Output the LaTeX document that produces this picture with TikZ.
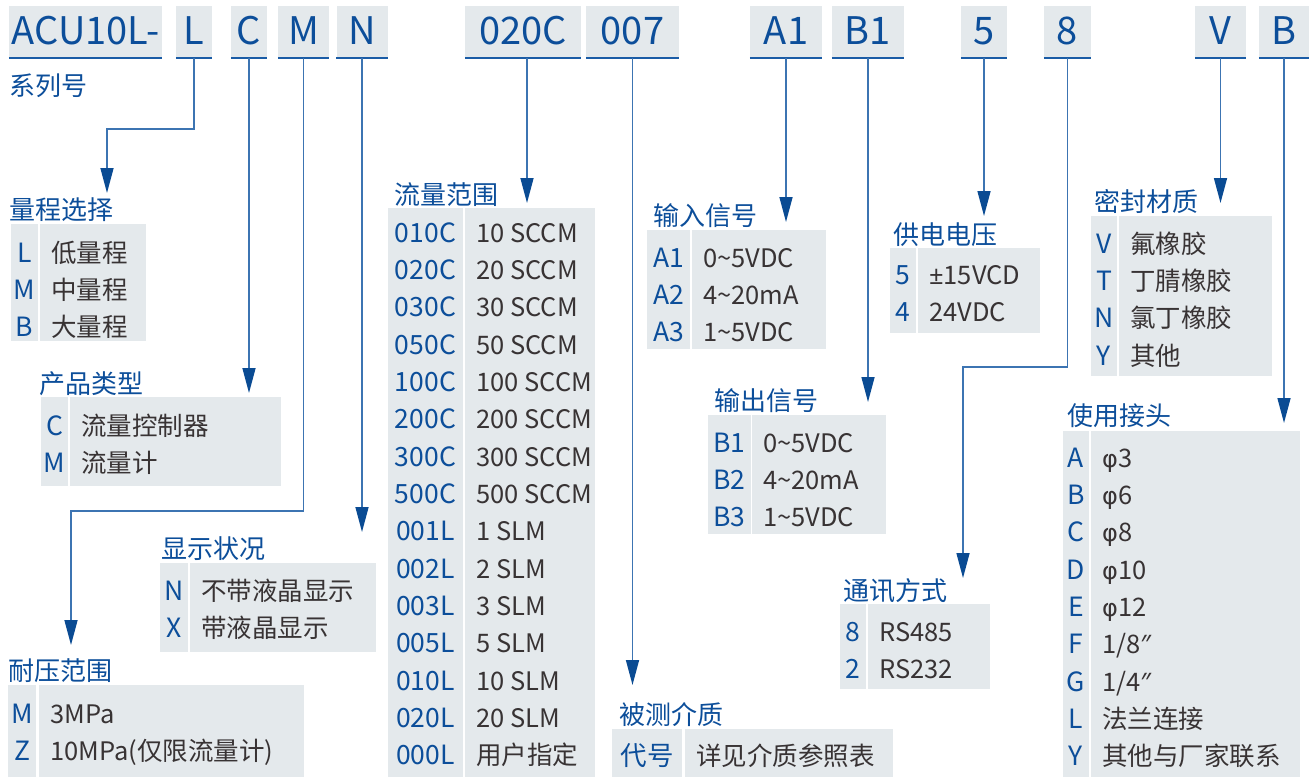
\documentclass[tikz,border=0pt]{standalone}
\usepackage{fontspec}
\setmainfont{Noto Sans CJK SC}
\newfontfamily\grk{Noto Sans}
\newfontfamily\phif{DejaVu Sans}
\usetikzlibrary{arrows.meta}
\definecolor{cellgray}{HTML}{E4E9EC}
\definecolor{kblue}{HTML}{0C4E9A}
\definecolor{lblue}{HTML}{3C74B2}
\definecolor{ablue}{HTML}{0A4B93}
\definecolor{dtext}{HTML}{383334}
\definecolor{ublue}{HTML}{1A5CA6}
\newcommand\rowsp{37.35}
\newcommand\tld{\textasciitilde}
\newcommand\phisym{{\phif\fontsize{24}{28}\selectfont φ}}
\tikzset{
  hbox/.style={fill=cellgray, minimum height=52pt, inner sep=0pt, text=kblue,
    font=\fontsize{38}{40}\selectfont, text height=28pt, text depth=4pt},
  uline/.style={draw=ublue, line width=2pt},
  ttl/.style={anchor=base west, inner sep=0pt, text=kblue, font=\fontsize{26}{30}\selectfont},
  keyt/.style={anchor=base, inner sep=0pt, text=kblue, font=\fontsize{26.5}{30}\selectfont},
  valt/.style={anchor=base west, inner sep=0pt, text=dtext, font=\fontsize{25.5}{30}\selectfont},
  conn/.style={draw=lblue, line width=1.5pt, -{Triangle[length=25pt,width=13pt,color=ablue]}},
}
% #1 name, #2 kx0, #3 kx1, #4 vx0, #5 vx1, #6 top, #7 bottom, #8 first row y, #9 list
\newcommand\mktable[9]{%
  \fill[cellgray] (#2,#6) rectangle (#3,#7);
  \fill[cellgray] (#4,#6) rectangle (#5,#7);
  \foreach \k/\v [count=\i] in {#9} {
    \node[keyt] (#1k\i) at ({(#2+#3)/2},{#8+(\i-1)*\rowsp+10}) {\k};
    \node[valt] (#1v\i) at ({#4+11},{#8+(\i-1)*\rowsp+10}) {\v};
  }%
}
\begin{document}
\begin{tikzpicture}[x=1pt,y=-1pt]
\useasboundingbox (0,0) rectangle (1314,777);
% header boxes
\node[hbox, minimum width=153pt] (hACU) at (85.5,32) {ACU10L-};
\node[hbox, minimum width=36pt] (hL) at (194,32) {L};
\node[hbox, minimum width=36pt] (hC) at (249,32) {C};
\node[hbox, minimum width=51pt] (hM) at (303.5,32) {M};
\node[hbox, minimum width=51pt] (hN) at (362,32) {N};
\node[hbox, minimum width=116pt] (h020C) at (523,32) {020C};
\node[hbox, minimum width=93pt] (h007) at (632.5,32) {007};
\node[hbox, minimum width=72pt] (hA1) at (786,32) {A1};
\node[hbox, minimum width=72pt] (hB1) at (868,32) {B1};
\node[hbox, minimum width=46pt] (h5) at (984,32) {5};
\node[hbox, minimum width=47pt] (h8) at (1067.5,32) {8};
\node[hbox, minimum width=51pt] (hV) at (1220.5,32) {V};
\node[hbox, minimum width=50pt] (hB) at (1284,32) {B};
\foreach \n in {hACU,hL,hC,hM,hN,h020C,h007,hA1,hB1,h5,h8,hV,hB}
  \draw[uline] (\n.south west) -- (\n.south east);
\node[ttl] (series) at (9,95) {系列号};
% titles
\node[ttl] (ttA) at (9,219) {量程选择};
\node[ttl] (ttB) at (39,393) {产品类型};
\node[ttl] (ttC) at (394,204) {流量范围};
\node[ttl] (ttD) at (619,724) {被测介质};
\node[ttl] (ttE) at (653,225) {输入信号};
\node[ttl] (ttF) at (893,244) {供电电压};
\node[ttl] (ttG) at (714,410) {输出信号};
\node[ttl] (ttH) at (843,600) {通讯方式};
\node[ttl] (ttI) at (1094,211) {密封材质};
\node[ttl] (ttJ) at (1067,425) {使用接头};
\node[ttl] (ttK) at (161,558) {显示状况};
\node[ttl] (ttL) at (8,680) {耐压范围};
% tables
\mktable{ta}{11}{38}{40}{146}{224}{341}{252}{L/低量程,M/中量程,B/大量程}
\mktable{tb}{41}{68}{70}{281}{397}{486}{425}{C/流量控制器,M/流量计}
\mktable{tc}{388}{463}{465}{595}{208}{777}{232}{010C/10 SCCM,020C/20 SCCM,030C/30 SCCM,050C/50 SCCM,100C/100 SCCM,200C/200 SCCM,300C/300 SCCM,500C/500 SCCM,001L/1 SLM,002L/2 SLM,003L/3 SLM,005L/5 SLM,010L/10 SLM,020L/20 SLM,000L/用户指定}
\mktable{td}{612}{682}{685}{893}{729}{777}{755}{代号/详见介质参照表}
\mktable{te}{647}{690}{692}{826}{230}{349}{257}{A1/0\tld5VDC,A2/4\tld20mA,A3/1\tld5VDC}
\mktable{tf}{890}{916}{918}{1040}{248}{333}{274}{5/{{\grk ±}15VCD},4/24VDC}
\mktable{tg}{708}{751}{752}{886}{415}{534}{442}{B1/0\tld5VDC,B2/4\tld20mA,B3/1\tld5VDC}
\mktable{th}{840}{866}{868}{990}{604}{689}{631}{8/RS485,2/RS232}
\mktable{ti}{1091}{1117}{1119}{1272}{216}{376}{243}{V/氟橡胶,T/丁腈橡胶,N/氯丁橡胶,Y/其他}
\mktable{tj}{1063}{1089}{1091}{1300}{431}{777}{457}{A/{\phisym 3},B/{\phisym 6},C/{\phisym 8},D/{\phisym 10},E/{\phisym 12},F/{1/8{\grk ″}},G/{1/4{\grk ″}},L/法兰连接,Y/其他与厂家联系}
\mktable{tk}{160}{188}{190}{376}{563}{652}{590}{N/不带液晶显示,X/带液晶显示}
\mktable{tl}{8}{36}{39}{304}{685}{777}{713}{M/3MPa,Z/10MPa(仅限流量计)}
% arrow tips
\coordinate (pA) at (107,193);
\coordinate (pB) at (249,393);
\coordinate (pL) at (71,645);
\coordinate (pK) at (362,532);
\coordinate (pC) at (527,203);
\coordinate (pD) at (632.5,685);
\coordinate (pE) at (786,222);
\coordinate (pG) at (868,402);
\coordinate (pF) at (984,216);
\coordinate (pH) at (963,578);
\coordinate (pI) at (1220.5,203);
\coordinate (pJ) at (1284,423);
% connectors
\draw[conn] (hL.south) -- (hL.south |- 0,129) -| (pA);
\draw[conn] (hC.south) -- (pB);
\draw[conn] (hM.south) -- (hM.south |- 0,511) -| (pL);
\draw[conn] (hN.south) -- (pK);
\draw[conn] (pC |- h020C.south) -- (pC);
\draw[conn] (h007.south) -- (pD);
\draw[conn] (hA1.south) -- (pE);
\draw[conn] (hB1.south) -- (pG);
\draw[conn] (h5.south) -- (pF);
\draw[conn] (h8.south) -- (h8.south |- 0,367) -| (pH);
\draw[conn] (hV.south) -- (pI);
\draw[conn] (hB.south) -- (pJ);
\end{tikzpicture}
\end{document}
